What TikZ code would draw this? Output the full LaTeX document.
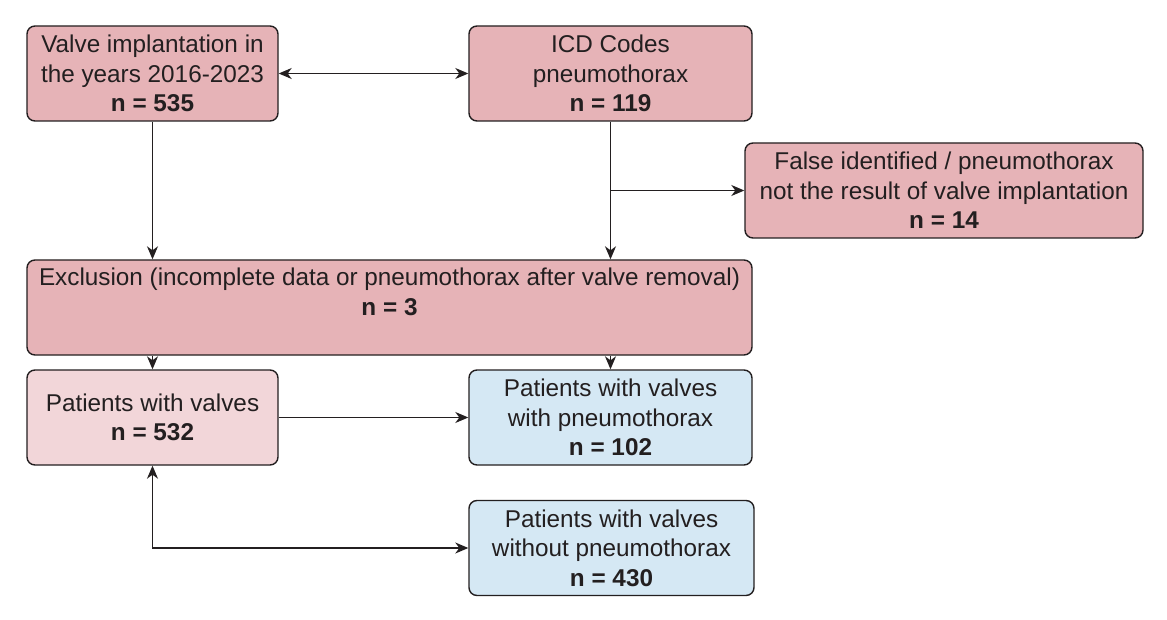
\documentclass[tikz,border=0pt]{standalone}
\usepackage{fontspec}
\setmainfont{Liberation Sans}
\usetikzlibrary{arrows.meta}

\definecolor{boxred}{HTML}{E6B3B7}
\definecolor{boxpink}{HTML}{F2D6D9}
\definecolor{boxblue}{HTML}{D5E8F4}
\definecolor{inkgray}{HTML}{231F20}

\tikzset{
  flowbox/.style={draw=inkgray, line width=1.4pt, rounded corners=8pt,
    inner sep=0pt, align=center, text=inkgray,
    font=\fontsize{24.3}{29.5}\selectfont},
  tip/.tip={Stealth[length=13pt,width=11pt,inset=4pt]},
  flowarrow/.style={draw=inkgray, line width=1.4pt, -tip},
}

\begin{document}
\begin{tikzpicture}[x=1pt,y=-1pt]
	\useasboundingbox (0,0) rectangle (1167,620);

	% top row
	\node[flowbox, fill=boxred, minimum width=251pt, minimum height=95pt] (implant) at (152.5,73.5)
		{Valve implantation in\\the years 2016-2023\\\textbf{n = 535}};
	\node[flowbox, fill=boxred, minimum width=283pt, minimum height=95pt] (icd) at (610.5,73.5)
		{ICD Codes\\pneumothorax\\\textbf{n = 119}};
	\node[flowbox, fill=boxred, minimum width=398pt, minimum height=95pt] (falseid) at (944,190.5)
		{False identified / pneumothorax\\not the result of valve implantation\\\textbf{n = 14}};

	% exclusion
	\node[flowbox, fill=boxred, minimum width=725pt, minimum height=95pt] (excl) at (389.5,307.5)
		{Exclusion (incomplete data or pneumothorax after valve removal)\\\textbf{n = 3}\\[-6.5pt]\strut};

	% patient groups
	\node[flowbox, fill=boxpink, minimum width=251pt, minimum height=95pt] (patients) at (152.5,417.5)
		{Patients with valves\\\textbf{n = 532}};
	\node[flowbox, fill=boxblue, minimum width=283pt, minimum height=95pt] (withpt) at (610.5,417.5)
		{Patients with valves\\with pneumothorax\\\textbf{n = 102}};
	\node[flowbox, fill=boxblue, minimum width=285pt, minimum height=95pt] (withoutpt) at (611.5,548)
		{Patients with valves\\without pneumothorax\\\textbf{n = 430}};

	% connectors
	\draw[flowarrow, tip-tip] (implant) -- (icd);
	\draw[flowarrow] (implant.south) -- (implant.south |- excl.north);
	\draw[flowarrow] (icd.south) -- (icd.south |- excl.north);
	\coordinate (split) at (icd.south |- falseid.west);
	\draw[flowarrow] (split) -- (falseid.west);

	\draw[flowarrow] (excl.south -| patients.north) -- (patients.north);
	\draw[flowarrow] (excl.south -| withpt.north) -- (withpt.north);
	\draw[flowarrow] (patients) -- (withpt);
	\draw[flowarrow, tip-tip] (patients.south) |- (withoutpt.west);
\end{tikzpicture}
\end{document}
